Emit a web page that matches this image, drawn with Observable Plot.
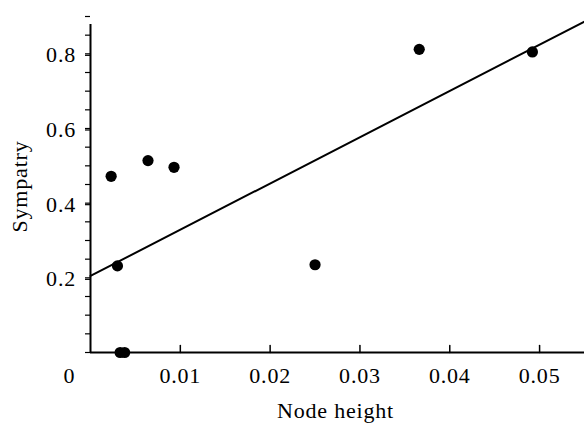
<!DOCTYPE html>
<html>
<head>
<meta charset="utf-8">
<script src="https://cdn.jsdelivr.net/npm/d3@7"></script>
<script src="https://cdn.jsdelivr.net/npm/@observablehq/plot@0.6"></script>
<style>
  html, body { margin: 0; padding: 0; background: white; }
  #chart svg { display: block; }
  #chart svg text { font-family: "Liberation Serif", "Times New Roman", serif; font-variant: normal; letter-spacing: 0.8px; }
</style>
</head>
<body>
<div id="chart"></div>
<script>
// Data
const nodeHeight = [0.0023, 0.0064, 0.0093, 0.0030, 0.0250, 0.0366, 0.0492, 0.0033, 0.0038];
const sympatry   = [0.472, 0.514, 0.496, 0.232, 0.235, 0.812, 0.805, 0.000, 0.000];

const xDomain = [0, 0.055];
const yDomain = [0, 0.9];
const xTicks = [0.01, 0.02, 0.03, 0.04, 0.05];
const xTickLabels = ["0.01", "0.02", "0.03", "0.04", "0.05"];
const yTicks = [0.2, 0.4, 0.6, 0.8];
const yTickLabels = ["0.2", "0.4", "0.6", "0.8"];
const yMinorTicks = d3.range(0, 0.9001, 0.05).map(v => +v.toFixed(2));
const originLabel = "0";
const xLabel = "Node height";
const yLabel = "Sympatry";

const points = nodeHeight.map((x, i) => ({x, y: sympatry[i]}));

// least-squares regression line
const mx = d3.mean(nodeHeight), my = d3.mean(sympatry);
const sxy = d3.sum(points, p => (p.x - mx) * (p.y - my));
const sxx = d3.sum(points, p => (p.x - mx) ** 2);
const slope = sxy / sxx;
const intercept = my - slope * mx;
const fit = xDomain.map(x => ({x, y: intercept + slope * x}));

const tickLine = {draw(ctx, l) { ctx.moveTo(0, 0); ctx.lineTo(0, -l); }};
const font = {fontFamily: "Liberation Serif", fontSize: 22, fontVariant: "normal"};

const chart = Plot.plot({
  width: 584,
  height: 427,
  marginLeft: 90,
  marginRight: 0,
  marginTop: 16,
  marginBottom: 75,
  style: {fontFamily: "'Liberation Serif', serif", fontSize: "22px", color: "black", background: "white"},
  x: {domain: xDomain, axis: null},
  y: {domain: yDomain, axis: null},
  marks: [
    Plot.axisY({ticks: yMinorTicks, tickSize: 5, tickFormat: () => "", label: null, strokeWidth: 1.2}),
    Plot.axisY({ticks: yTicks, tickSize: 5, tickPadding: 9.5, tickFormat: d => yTickLabels[yTicks.indexOf(d)], label: null, strokeWidth: 1.2, dy: 1.5, ...font}),
    Plot.axisX({ticks: xTicks, tickSize: 0, tickPadding: 15, tickFormat: d => xTickLabels[xTicks.indexOf(d)], label: null, ...font}),
    Plot.vector(xTicks, {x: d => d, y: () => 0, length: 7, rotate: 0, anchor: "start", shape: tickLine, stroke: "black", strokeWidth: 1.5}),
    Plot.text([originLabel], {x: () => 0, y: () => 0, dx: -21, dy: 15, lineAnchor: "top", fill: "black", ...font}),
    Plot.ruleY([0], {stroke: "black", strokeWidth: 2}),
    Plot.ruleX([0], {y1: yDomain[0], y2: yDomain[1], insetBottom: -8, stroke: "black", strokeWidth: 2}),
    Plot.line(fit, {x: "x", y: "y", stroke: "black", strokeWidth: 2}),
    Plot.dot(points, {x: "x", y: "y", r: 5.6, fill: "black", stroke: "none"}),
    Plot.text([xLabel], {frameAnchor: "bottom", dy: 58.4, lineAnchor: "middle", fill: "black", dx: -2, ...font}),
    Plot.text([yLabel], {frameAnchor: "left", dx: -71, dy: 2, rotate: -90, lineAnchor: "middle", textAnchor: "middle", fill: "black", ...font})
  ]
});

document.getElementById("chart").appendChild(chart);
</script>
</body>
</html>
